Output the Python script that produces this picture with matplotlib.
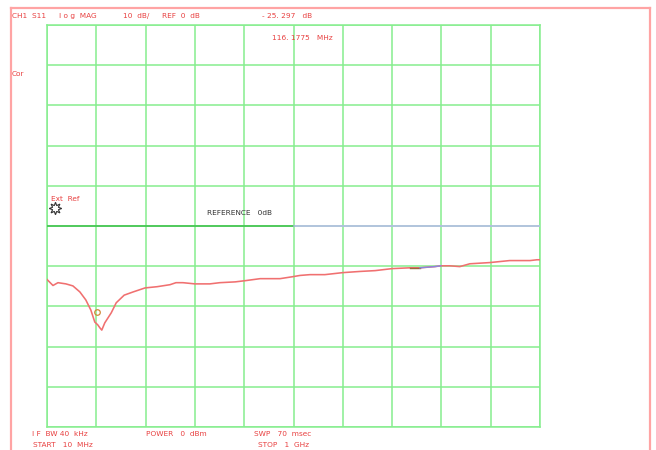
import matplotlib
matplotlib.use("Agg")
import matplotlib.pyplot as plt
from matplotlib.lines import Line2D

# ---- data (frequency MHz, S11 dB) ----
freq_mhz = [10, 22, 32, 48, 62, 76, 88, 98, 106, 112, 116, 120, 126, 139, 149, 165,
            183, 207, 231, 257, 269, 283, 307, 337, 357, 388, 408, 438, 478, 504,
            518, 538, 568, 604, 639, 669, 703, 739, 759, 789, 801, 819, 839, 859,
            899, 939, 980, 994, 1000]
s11_db = [-13.3, -14.8, -14.1, -14.4, -14.9, -16.4, -18.4, -20.9, -23.9, -24.6, -25.3,
          -25.9, -24.1, -21.6, -19.1, -17.2, -16.4, -15.4, -15.1, -14.6, -14.1, -14.1,
          -14.4, -14.4, -14.1, -13.9, -13.6, -13.1, -13.1, -12.6, -12.3, -12.1, -12.1,
          -11.6, -11.3, -11.1, -10.6, -10.4, -10.4, -10.1, -9.9, -9.9, -10.1, -9.4,
          -9.1, -8.6, -8.6, -8.4, -8.4]
marker_freq = 116.1775
marker_db = -25.297
start_mhz, stop_mhz = 10, 1000
ref_db = 0
scale_db = 10

W, H = 656, 450
fig = plt.figure(figsize=(W / 100, H / 100), dpi=100)
fig.patch.set_facecolor("white")

def px(x, y):
    return x / W, 1 - y / H

l, r, t, b = 47, 540, 25, 427
ax = fig.add_axes([l / W, 1 - b / H, (r - l) / W, (b - t) / H])
ax.set_xlim(start_mhz, stop_mhz)
ax.set_ylim(ref_db - 5 * scale_db, ref_db + 5 * scale_db)
step = (stop_mhz - start_mhz) / 10
ax.set_xticks([start_mhz + i * step for i in range(11)])
ax.set_yticks([ref_db - 5 * scale_db + i * scale_db for i in range(11)])
grid_c = "#86ee8e"
ax.grid(True, color=grid_c, lw=1.1)
ax.tick_params(length=0, labelbottom=False, labelleft=False)
for s in ax.spines.values():
    s.set_color(grid_c)
    s.set_linewidth(1.1)

# reference line
mid = start_mhz + 5 * step
ax.plot([start_mhz, mid], [ref_db, ref_db], color="#3cbf4a", lw=1.1, zorder=3)
ax.plot([mid, stop_mhz], [ref_db, ref_db], color="#b8b8ec", lw=1.1, zorder=3)

# trace
ax.plot(freq_mhz, s11_db, color="#f07070", lw=1.15, zorder=4)
# small coloured segment near 740-800 MHz
seg1 = [(f, d) for f, d in zip(freq_mhz, s11_db) if 739 <= f <= 759]
seg2 = [(f, d) for f, d in zip(freq_mhz, s11_db) if 759 <= f <= 801]
ax.plot([p[0] for p in seg1], [p[1] for p in seg1], color="#9a6a3a", lw=1.0, zorder=5)
ax.plot([p[0] for p in seg2], [p[1] for p in seg2], color="#8888e0", lw=1.0, zorder=5)

# marker symbol (drawn just above-left of the marker point)
ax.plot([marker_freq - 6], [marker_db + 3.9], marker="o", ms=4, mfc="none",
        mec="#d08a3a", mew=0.9, zorder=6)

# Ext Ref symbol
ax.plot([0.016], [0.545], marker=(8, 1, 0), ms=9, mfc="white", mec="#333333",
        mew=0.8, transform=ax.transAxes, clip_on=False, zorder=6)

# outer frame
frame_c = "#ffa4a4"
fig.add_artist(Line2D([11 / W, 11 / W], [0, 1 - 8 / H], color=frame_c, lw=1.6))
fig.add_artist(Line2D([11 / W, 650 / W], [1 - 8 / H, 1 - 8 / H], color=frame_c, lw=1.6))
fig.add_artist(Line2D([650 / W, 650 / W], [0, 1 - 8 / H], color=frame_c, lw=1.6))

red = "#e84040"
fs = 5.3
def txt(x, y, s, c=red, size=fs):
    fig.text(*px(x, y), s, color=c, fontsize=size, va="center", ha="left",
             family="DejaVu Sans")

txt(12, 16, "CH1  S11")
txt(59, 16, "l o g  MAG")
txt(123, 16, "10  dB/")
txt(162, 16, "REF  0  dB")
txt(262, 16, "- 25. 297   dB")
txt(272, 38, "116. 1775   MHz")
txt(12, 74, "Cor")
txt(51, 199, "Ext  Ref")
txt(207, 213, "REFERENCE   0dB", c="#333333")
txt(32, 434, "I F  BW 40  kHz")
txt(146, 434, "POWER   0  dBm")
txt(254, 434, "SWP   70  msec")
txt(33, 445, "START   10  MHz")
txt(258, 445, "STOP   1  GHz")

fig.savefig("out.png", dpi=100)
